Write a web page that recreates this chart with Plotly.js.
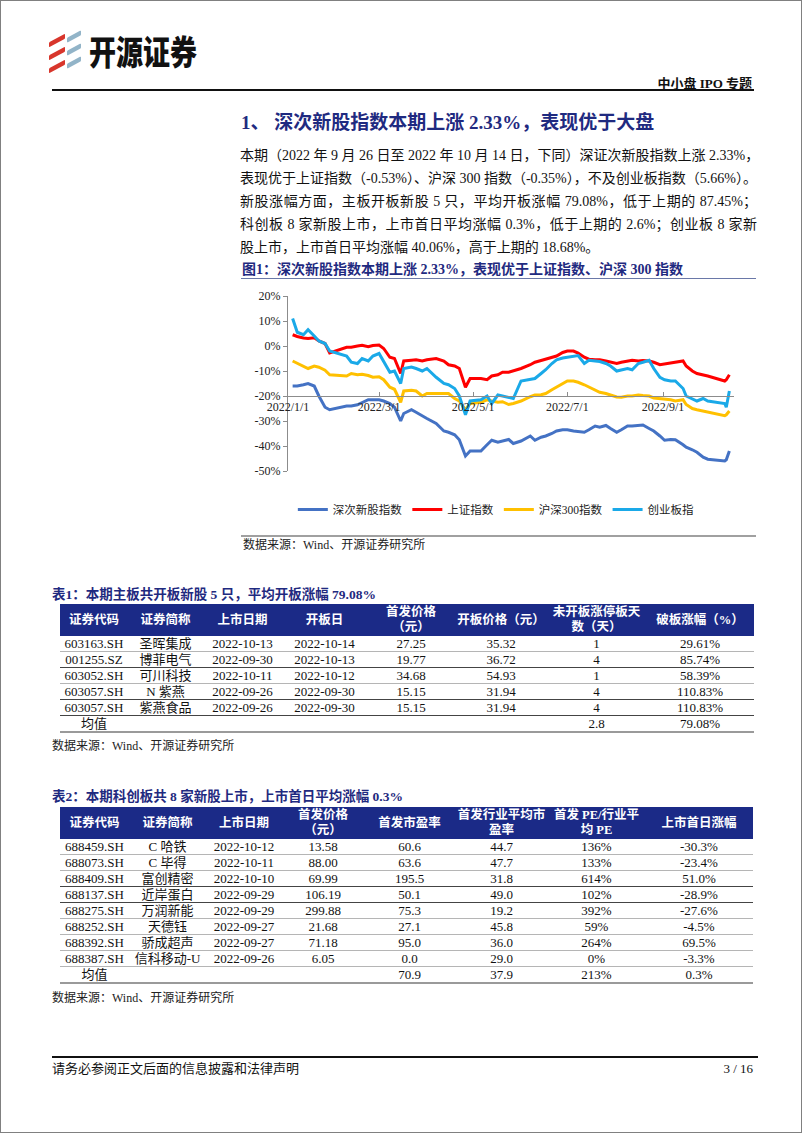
<!DOCTYPE html>
<html>
<head>
<meta charset="utf-8">
<script src="https://cdn.plot.ly/plotly-3.0.1.min.js"></script>
<style>
  body { margin: 0; background: #fff; }
  #page { position: relative; width: 802px; height: 1133px; box-sizing: border-box; border: 1px solid #808080; overflow: hidden;
          font-family: "Liberation Serif", "Noto Sans CJK SC", serif; color: #111; }
  .abs { position: absolute; white-space: nowrap; }
  .navy { color: #1f2a80; font-weight: bold; }
  .para div { height: 23px; line-height: 23px; font-size: 14px; text-align: justify; text-align-last: justify; }
  .para div.last { text-align-last: left; }
  table.dt { position: absolute; left: 59px; border-collapse: collapse; table-layout: fixed; font-size: 13px; }
  table.dt th { background: #1b2a87; color: #fff; font-weight: bold; font-size: 12.5px; line-height: 15px; padding: 0; text-align: center; overflow: hidden; }
  table.dt td { text-align: center; padding: 0; line-height: 15px; height: 15px; border-bottom: 1px solid #b5b5b5; overflow: hidden; white-space: nowrap; }
  table.dt tr.dark td { border-bottom: 1.5px solid #444; }
  table.dt tr.mean td { border-bottom: 2px solid #9a9a9a; }
  .src { font-size: 12px; color: #222; }
  .bar { position: absolute; height: 5px; transform: skewY(-28deg); border-radius: 1px; }
</style>
</head>
<body>
<div id="page">
  <!-- header -->
  <div class="bar" style="left:48px;top:37px;width:16px;background:#d8362c;"></div>
  <div class="bar" style="left:48px;top:50px;width:16px;background:#d8362c;"></div>
  <div class="bar" style="left:48px;top:63px;width:16px;background:#d8362c;"></div>
  <div class="bar" style="left:66px;top:33px;width:14px;background:#92b4c8;"></div>
  <div class="bar" style="left:66px;top:46px;width:14px;background:#92b4c8;"></div>
  <div class="bar" style="left:66px;top:59px;width:14px;background:#92b4c8;"></div>
  <div class="abs" style="left:88px;top:31px;font-family:'Noto Sans CJK SC';font-weight:900;font-size:27px;line-height:30px;letter-spacing:0px;color:#111;transform:scaleY(1.25);transform-origin:left top;">开源证券</div>
  <div class="abs" style="right:49px;top:75px;font-size:13px;font-weight:bold;line-height:16px;">中小盘 IPO 专题</div>
  <div class="abs" style="left:51px;top:88px;width:702px;height:2px;background:#111;"></div>

  <!-- section heading + text -->
  <div class="abs navy" style="left:240px;top:110px;font-size:19px;line-height:24px;">1、 深次新股指数本期上涨 2.33%，表现优于大盘</div>
  <div class="abs para" id="para" style="left:239px;top:143px;width:517px;"></div>

  <!-- figure -->
  <div class="abs navy" style="left:241px;top:260px;font-size:14px;line-height:17px;">图1：深次新股指数本期上涨 2.33%，表现优于上证指数、沪深 300 指数</div>
  <div class="abs" style="left:240px;top:277px;width:515px;height:1px;background:#6a78a8;"></div>
  <div id="chart" style="position:absolute;left:230px;top:280px;width:530px;height:255px;"></div>
  <div class="abs" style="left:240px;top:534px;width:515px;height:2px;background:#a0a0a0;"></div>
  <div class="abs src" style="left:242px;top:536px;line-height:16px;">数据来源：Wind、开源证券研究所</div>

  <!-- table 1 -->
  <div class="abs navy" style="left:51px;top:585px;font-size:13.5px;line-height:17px;">表1：本期主板共开板新股 5 只，平均开板涨幅 79.08%</div>
  <table class="dt" id="t1" style="top:603px;"></table>
  <div class="abs src" style="left:51px;top:737px;line-height:16px;">数据来源：Wind、开源证券研究所</div>

  <!-- table 2 -->
  <div class="abs navy" style="left:51px;top:787px;font-size:13.5px;line-height:17px;">表2：本期科创板共 8 家新股上市，上市首日平均涨幅 0.3%</div>
  <table class="dt" id="t2" style="top:806px;"></table>
  <div class="abs src" style="left:51px;top:989px;line-height:16px;">数据来源：Wind、开源证券研究所</div>

  <!-- footer -->
  <div class="abs" style="left:51px;top:1055px;width:706px;height:2px;background:#111;"></div>
  <div class="abs" style="left:51px;top:1059px;font-size:13px;line-height:17px;">请务必参阅正文后面的信息披露和法律声明</div>
  <div class="abs" style="right:48px;top:1059px;font-size:13px;line-height:17px;">3 / 16</div>
</div>

<script>
// Body text, one entry per printed line
const paraLines = [
  "本期（2022 年 9 月 26 日至 2022 年 10 月 14 日，下同）深证次新股指数上涨 2.33%，",
  "表现优于上证指数（-0.53%）、沪深 300 指数（-0.35%），不及创业板指数（5.66%）。",
  "新股涨幅方面，主板开板新股 5 只，平均开板涨幅 79.08%，低于上期的 87.45%；",
  "科创板 8 家新股上市，上市首日平均涨幅 0.3%，低于上期的 2.6%；创业板 8 家新",
  "股上市，上市首日平均涨幅 40.06%，高于上期的 18.68%。"
];

// Chart data: cumulative change since 2022/1/1, %
const dates = [
  "2022-01-04","2022-01-07","2022-01-11","2022-01-14","2022-01-18","2022-01-21","2022-01-25","2022-01-28",
  "2022-02-08","2022-02-11","2022-02-15","2022-02-18","2022-02-22","2022-02-25","2022-03-01","2022-03-04",
  "2022-03-08","2022-03-11","2022-03-15","2022-03-17","2022-03-22","2022-03-25","2022-03-29","2022-04-01",
  "2022-04-07","2022-04-12","2022-04-15","2022-04-19","2022-04-22","2022-04-26","2022-04-29","2022-05-06",
  "2022-05-10","2022-05-13","2022-05-17","2022-05-20","2022-05-24","2022-05-27","2022-06-01","2022-06-07",
  "2022-06-10","2022-06-14","2022-06-17","2022-06-21","2022-06-24","2022-06-28","2022-07-01","2022-07-05",
  "2022-07-08","2022-07-12","2022-07-15","2022-07-19","2022-07-22","2022-07-26","2022-07-29","2022-08-02",
  "2022-08-05","2022-08-09","2022-08-12","2022-08-16","2022-08-19","2022-08-23","2022-08-26","2022-08-30",
  "2022-09-02","2022-09-06","2022-09-09","2022-09-14","2022-09-16","2022-09-20","2022-09-23","2022-09-27",
  "2022-09-30","2022-10-11","2022-10-12","2022-10-14"
];
const subNew = [
  -16,-16,-15.5,-15,-16,-20,-24.5,-25.5,
  -24,-24,-23.5,-22.5,-21.5,-21.5,-21.5,-22,
  -23,-24.5,-30,-27,-25.5,-26.5,-28,-29,
  -31,-34,-34.5,-35.5,-37.5,-44,-42,-42,
  -39.5,-37.7,-38.5,-38,-37.4,-39,-38,-36,
  -37.7,-36.5,-36,-35,-34,-33.5,-33.5,-34,
  -34.3,-34.5,-33.5,-32,-32.5,-31.8,-33,-34.5,
  -33.5,-32,-32,-31.6,-31.6,-33,-34,-36,
  -37.7,-37.4,-37.5,-39.5,-40.5,-41.5,-42.5,-44.5,
  -45.3,-46,-45.5,-42
];
const shIndex = [
  4.5,3.8,3.2,3,3.3,2,1,-2.8,
  -0.5,-0.5,0,0.3,-0.3,0.2,0.4,-1,
  -4.5,-5,-11,-6,-5.7,-5.5,-6,-5.5,
  -5,-6,-7.5,-8,-9,-16.5,-13,-13,
  -13.5,-12,-11.5,-10.5,-10.5,-10,-9,-7.5,
  -6.5,-5.8,-5.3,-4.8,-4,-2.6,-2,-2,
  -2.8,-4.5,-5.3,-5.5,-5.5,-6,-6.4,-7,
  -6.5,-6,-5.7,-6,-5.8,-6,-6.5,-7.5,
  -7.2,-7,-6.5,-6,-8,-10,-11,-11.5,
  -12,-14,-13.5,-11.5
];
const hs300 = [
  -6,-7,-8,-9,-8,-8.5,-9.7,-11.5,
  -12,-11,-11.5,-11.3,-11.8,-12.5,-12.3,-13.5,
  -16.5,-17.3,-22.5,-18,-17.7,-18,-20,-19,
  -19,-19,-19,-21,-22,-25.5,-23,-22.5,
  -21.5,-22,-22.5,-22.3,-23.4,-23,-22,-20.3,
  -19.6,-19.5,-19,-17.5,-16.5,-15,-14,-14,
  -14.5,-15.5,-16.5,-17.5,-18.5,-19,-19.6,-20.4,
  -20.5,-20,-20,-19.6,-19.8,-20,-20.8,-21,
  -21,-21.5,-22,-21.5,-23.4,-25,-25.5,-26,
  -26.3,-27.9,-27.5,-26
];
const chinext = [
  11,5.5,4.5,6.5,4,2,1,-2,
  -4,-6.5,-7,-5,-6,-4,-3,-6,
  -10.5,-10,-15,-9,-8.4,-9,-10,-9,
  -12.5,-15,-15.5,-17,-20,-27.5,-22,-21.5,
  -20,-23,-19.6,-20,-20.5,-21,-14,-13.5,
  -13,-11,-9.5,-7,-5.5,-4.8,-4.5,-4,
  -3.8,-7,-5.7,-6,-6.2,-7,-8,-10,
  -9.5,-9,-9.5,-7,-6.5,-5.7,-9,-12.5,
  -13.5,-14,-14,-17,-20,-21,-22,-21,
  -22,-23,-24.5,-18
];
const seriesNames = ["深次新股指数", "上证指数", "沪深300指数", "创业板指"];
const seriesColors = ["#4472c4", "#ff0000", "#ffc000", "#1aa9e8"];
const xTickVals = ["2022-01-01", "2022-03-01", "2022-05-01", "2022-07-01", "2022-09-01"];
const xTickText = ["2022/1/1", "2022/3/1", "2022/5/1", "2022/7/1", "2022/9/1"];
const yTickVals = [20, 10, 0, -10, -20, -30, -40, -50];

// Table 1: main board
const t1Head = ["证券代码", "证券简称", "上市日期", "开板日", "首发价格<br>（元）", "开板价格（元）", "未开板涨停板天<br>数（天）", "破板涨幅（%）"];
const t1Code = ["603163.SH", "001255.SZ", "603052.SH", "603057.SH", "603057.SH"];
const t1Name = ["圣晖集成", "博菲电气", "可川科技", "N 紫燕", "紫燕食品"];
const t1List = ["2022-10-13", "2022-09-30", "2022-10-11", "2022-09-26", "2022-09-26"];
const t1Open = ["2022-10-14", "2022-10-13", "2022-10-12", "2022-09-30", "2022-09-30"];
const t1Ipo = ["27.25", "19.77", "34.68", "15.15", "15.15"];
const t1OpenPx = ["35.32", "36.72", "54.93", "31.94", "31.94"];
const t1Days = ["1", "4", "1", "4", "4"];
const t1Gain = ["29.61%", "85.74%", "58.39%", "110.83%", "110.83%"];
const t1Mean = ["均值", "", "", "", "", "", "2.8", "79.08%"];
const t1Widths = [68, 75, 79, 85, 88, 92, 99, 108];

// Table 2: STAR market
const t2Head = ["证券代码", "证券简称", "上市日期", "首发价格<br>（元）", "首发市盈率", "首发行业平均市<br>盈率", "首发 PE/行业平<br>均 PE", "上市首日涨幅"];
const t2Code = ["688459.SH", "688073.SH", "688409.SH", "688137.SH", "688275.SH", "688252.SH", "688392.SH", "688387.SH"];
const t2Name = ["C 哈铁", "C 毕得", "富创精密", "近岸蛋白", "万润新能", "天德钰", "骄成超声", "信科移动-U"];
const t2List = ["2022-10-12", "2022-10-11", "2022-10-10", "2022-09-29", "2022-09-29", "2022-09-27", "2022-09-27", "2022-09-26"];
const t2Ipo = ["13.58", "88.00", "69.99", "106.19", "299.88", "21.68", "71.18", "6.05"];
const t2Pe = ["60.6", "63.6", "195.5", "50.1", "75.3", "27.1", "95.0", "0.0"];
const t2IndPe = ["44.7", "47.7", "31.8", "49.0", "19.2", "45.8", "36.0", "29.0"];
const t2Ratio = ["136%", "133%", "614%", "102%", "392%", "59%", "264%", "0%"];
const t2Gain = ["-30.3%", "-23.4%", "51.0%", "-28.9%", "-27.6%", "-4.5%", "69.5%", "-3.3%"];
const t2Mean = ["均值", "", "", "", "70.9", "37.9", "213%", "0.3%"];
const t2Widths = [69, 77, 76, 82, 91, 93, 97, 108];

document.getElementById("para").innerHTML = paraLines
  .map((l, i) => `<div class="${i === paraLines.length - 1 ? "last" : ""}">${l}</div>`).join("");

function buildTable(id, head, cols, mean, widths, headH, darkRows) {
  const rows = cols[0].map((_, r) => cols.map(c => c[r]));
  const el = document.getElementById(id);
  el.innerHTML =
    `<colgroup>${widths.map(w => `<col style="width:${w}px">`).join("")}</colgroup>` +
    `<tr style="height:${headH}px">${head.map(h => `<th>${h}</th>`).join("")}</tr>` +
    rows.map((r, i) => `<tr class="${darkRows.includes(i) ? "dark" : ""}">${r.map(v => `<td>${v}</td>`).join("")}</tr>`).join("") +
    `<tr class="mean">${mean.map(v => `<td>${v}</td>`).join("")}</tr>`;
}
buildTable("t1", t1Head, [t1Code, t1Name, t1List, t1Open, t1Ipo, t1OpenPx, t1Days, t1Gain], t1Mean, t1Widths, 32, [1, 3, 4]);
buildTable("t2", t2Head, [t2Code, t2Name, t2List, t2Ipo, t2Pe, t2IndPe, t2Ratio, t2Gain], t2Mean, t2Widths, 32, [2, 3]);

// Chart
const FONT = "Liberation Serif, Noto Sans CJK SC, serif";
const ys = [subNew, shIndex, hs300, chinext];
const traces = ys.map((y, i) => ({
  type: "scatter", mode: "lines", name: seriesNames[i],
  x: dates, y: y,
  line: { color: seriesColors[i], width: 3 },
}));
const yMin = -50, yMax = 20, xCross = -20;
Plotly.newPlot("chart", traces, {
  width: 530, height: 255,
  margin: { l: 57, r: 27, t: 15, b: 54 },
  paper_bgcolor: "#fff", plot_bgcolor: "#fff",
  font: { family: FONT, size: 11.5, color: "#222" },
  showlegend: true,
  legend: { orientation: "h", x: 0.466, xanchor: "center", y: -0.22, yanchor: "middle",
            font: { family: FONT, size: 11.5, color: "#222" }, itemwidth: 30, tracegroupgap: 0 },
  xaxis: {
    type: "date", range: ["2022-01-01", "2022-10-17"],
    anchor: "free", position: (xCross - yMin) / (yMax - yMin),
    showline: true, linecolor: "#8c8c8c", linewidth: 1,
    ticks: "inside", ticklen: 4, tickcolor: "#8c8c8c",
    tickvals: xTickVals, ticktext: xTickText,
    showgrid: false, zeroline: false, tickfont: { family: FONT, size: 12, color: "#222" },
  },
  yaxis: {
    range: [yMin, yMax], tickvals: yTickVals, ticktext: yTickVals.map(v => v + "%"),
    showline: true, linecolor: "#8c8c8c", linewidth: 1,
    ticks: "outside", ticklen: 4, tickcolor: "#8c8c8c",
    showgrid: false, zeroline: false, tickfont: { family: FONT, size: 12, color: "#222" },
  },
}, { staticPlot: true, displayModeBar: false });
</script>
</body>
</html>
